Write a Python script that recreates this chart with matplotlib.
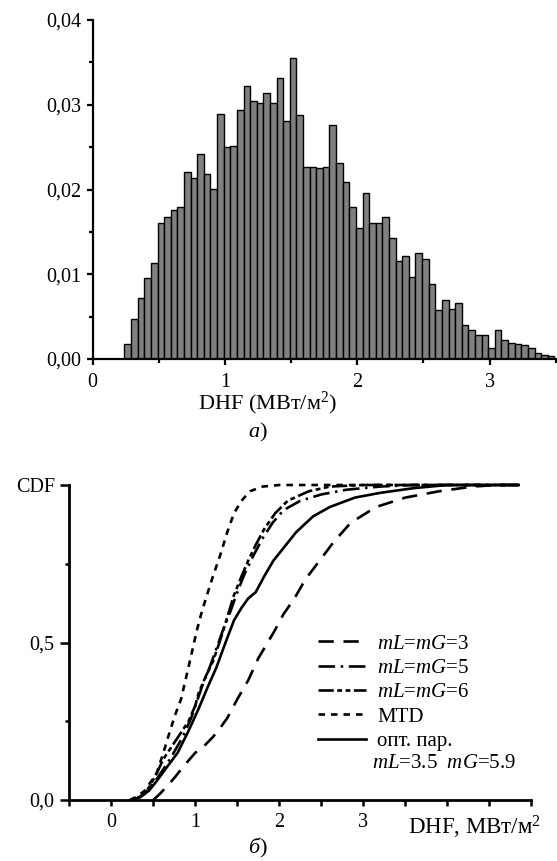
import numpy as np
import matplotlib.pyplot as plt

plt.rcParams['font.family'] = ['Liberation Serif', 'DejaVu Serif']
plt.rcParams['mathtext.fontset'] = 'custom'
plt.rcParams['mathtext.rm'] = 'Liberation Serif'
plt.rcParams['mathtext.it'] = 'Liberation Serif:italic'
plt.rcParams['lines.scale_dashes'] = False

# --- histogram data (a) ---
bin_start = 0.24
bin_width = 0.05
heights = [0.0018, 0.0047, 0.0072, 0.0096, 0.0113, 0.0160, 0.0168, 0.0176, 0.0179, 0.0221,
           0.0214, 0.0242, 0.0218, 0.0201, 0.0289, 0.0250, 0.0251, 0.0294, 0.0322, 0.0305,
           0.0302, 0.0314, 0.0302, 0.0332, 0.0281, 0.0355, 0.0288, 0.0226, 0.0226, 0.0225,
           0.0226, 0.0276, 0.0231, 0.0209, 0.0179, 0.0155, 0.0196, 0.0160, 0.0160, 0.0168,
           0.0143, 0.0116, 0.0122, 0.0097, 0.0125, 0.0118, 0.0088, 0.0058, 0.0070, 0.0059,
           0.0066, 0.0040, 0.0034, 0.0028, 0.0028, 0.0013, 0.0034, 0.0022, 0.0019, 0.0018,
           0.0016, 0.0013, 0.0007, 0.0005, 0.0003]
hist_yticks = [0.0, 0.01, 0.02, 0.03, 0.04]
hist_ylabels = ['0,00', '0,01', '0,02', '0,03', '0,04']

# --- CDF data (b) ---
x_mtd = [0.22, 0.30, 0.40, 0.54, 0.62, 0.70, 0.76, 0.83, 0.90, 0.96, 1.02, 1.08, 1.15, 1.21,
         1.30, 1.38, 1.46, 1.55, 1.65, 1.80, 2.00, 3.00, 4.85]
y_mtd = [0.0, 0.01, 0.03, 0.085, 0.15, 0.22, 0.27, 0.32, 0.40, 0.47, 0.54, 0.60, 0.66, 0.71,
         0.78, 0.85, 0.91, 0.95, 0.98, 0.995, 1.0, 1.0, 1.0]
x_m6 = [0.25, 0.35, 0.45, 0.55, 0.62, 0.72, 0.82, 0.92, 1.00, 1.04, 1.12, 1.21, 1.30, 1.38,
        1.46, 1.55, 1.63, 1.72, 1.82, 1.95, 2.10, 2.35, 2.60, 3.00, 4.85]
y_m6 = [0.0, 0.01, 0.04, 0.09, 0.13, 0.17, 0.21, 0.25, 0.30, 0.34, 0.39, 0.44, 0.51, 0.58,
        0.65, 0.71, 0.76, 0.81, 0.86, 0.91, 0.95, 0.98, 0.995, 1.0, 1.0]
x_m5 = [0.27, 0.40, 0.55, 0.70, 0.85, 0.95, 1.08, 1.17, 1.25, 1.33, 1.42, 1.50, 1.59, 1.70,
        1.80, 1.92, 2.05, 2.25, 2.50, 2.80, 3.20, 3.60, 4.85]
y_m5 = [0.0, 0.02, 0.07, 0.13, 0.20, 0.26, 0.36, 0.42, 0.48, 0.54, 0.60, 0.66, 0.72, 0.78,
        0.83, 0.88, 0.92, 0.95, 0.97, 0.985, 0.995, 1.0, 1.0]
x_opt = [0.25, 0.35, 0.45, 0.54, 0.65, 0.79, 0.92, 1.04, 1.15, 1.25, 1.36, 1.46, 1.55, 1.63,
         1.72, 1.82, 1.93, 2.05, 2.20, 2.40, 2.60, 2.90, 3.20, 3.60, 4.00, 4.85]
y_opt = [0.0, 0.01, 0.03, 0.06, 0.10, 0.15, 0.22, 0.29, 0.36, 0.42, 0.50, 0.57, 0.61, 0.64,
         0.66, 0.71, 0.76, 0.80, 0.85, 0.90, 0.93, 0.96, 0.975, 0.99, 1.0, 1.0]
x_m3 = [0.50, 0.58, 0.65, 0.75, 0.87, 1.00, 1.10, 1.21, 1.30, 1.38, 1.50, 1.63, 1.75, 1.84,
        1.95, 2.05, 2.18, 2.31, 2.48, 2.65, 2.85, 3.15, 3.50, 3.90, 4.30, 4.60, 4.85]
y_m3 = [0.0, 0.02, 0.04, 0.07, 0.11, 0.15, 0.17, 0.20, 0.23, 0.26, 0.32, 0.38, 0.45, 0.49,
        0.54, 0.59, 0.64, 0.70, 0.76, 0.82, 0.88, 0.93, 0.96, 0.98, 0.995, 1.0, 1.0]
cdf_xticks = [0, 1, 2, 3]
cdf_xlabels = ['0', '1', '2', '3']
cdf_yticks = [0.0, 0.5, 1.0]
cdf_ylabels = ['0,0', '0,5', 'CDF']

W, H = 557, 861
fig = plt.figure(figsize=(W / 100, H / 100), dpi=100)

# ---------- (a) histogram ----------
ax1 = fig.add_axes([92.7 / W, 1 - 359 / H, 463 / W, 339 / H])
lefts = bin_start + bin_width * np.arange(len(heights))
ax1.bar(lefts, heights, width=bin_width, align='edge', color='#808080',
        edgecolor='black', linewidth=1.0)
ax1.set_xlim(0, 3.5)
ax1.set_ylim(0, 0.04)
ax1.set_yticks(hist_yticks)
ax1.set_yticklabels(hist_ylabels)
ax1.set_xticks([0, 1, 2, 3])
ax1.set_xticklabels(['0', '1', '2', '3'])
ax1.set_xticks(np.arange(0.5, 3.6, 1.0), minor=True)
ax1.set_yticks(np.arange(0.005, 0.04, 0.01), minor=True)
for s in ['top', 'right']:
    ax1.spines[s].set_visible(False)
for s in ['left', 'bottom']:
    ax1.spines[s].set_linewidth(1.6)
ax1.tick_params(which='major', direction='out', length=4, width=1.6, labelsize=14.5)
ax1.tick_params(which='minor', direction='out', length=3, width=1.6)
ax1.tick_params(axis='x', pad=6)
ax1.tick_params(axis='y', pad=4)
ax1.text(1.32, -(409.5 - 359) / 339, 'DHF (МВт/м$^2$)', transform=ax1.get_xaxis_transform(),
         ha='center', va='baseline', fontsize=16)
ax1.text(1.25, -(437 - 359) / 339, '$а$)', transform=ax1.get_xaxis_transform(),
         ha='center', va='baseline', fontsize=16)

# ---------- (b) CDF ----------
ax2 = fig.add_axes([69.3 / W, 1 - 800 / H, 462 / W, 315 / H])
lw = 1.9
ax2.plot(x_m3, y_m3, color='black', lw=lw, ls=(0, (11, 7)), clip_on=False,
         label='$mL$=$mG$=3')
ax2.plot(x_m5, y_m5, color='black', lw=lw, ls=(0, (12, 4, 1.8, 4)), clip_on=False,
         label='$mL$=$mG$=5')
ax2.plot(x_m6, y_m6, color='black', lw=lw, ls=(0, (11, 2.5, 3.5, 2.5, 3.5, 2.5)),
         clip_on=False, label='$mL$=$mG$=6')
ax2.plot(x_mtd, y_mtd, color='black', lw=lw, ls=(0, (4.7, 4.3)), clip_on=False,
         label='MTD')
ax2.plot(x_opt, y_opt, color='black', lw=lw, ls='-', clip_on=False,
         label='опт. пар.')
ax2.set_xlim(-0.5, 5.0)
ax2.set_ylim(0, 1.0)
ax2.set_xticks(cdf_xticks)
ax2.set_xticklabels(cdf_xlabels)
ax2.set_xticks([-0.5, 0.5, 1.5, 2.5, 3.5, 4.0, 4.5, 5.0], minor=True)
ax2.set_yticks(cdf_yticks)
ax2.set_yticklabels(cdf_ylabels)
ax2.set_yticks([0.25, 0.75], minor=True)
for s in ['top', 'right']:
    ax2.spines[s].set_visible(False)
for s in ['left', 'bottom']:
    ax2.spines[s].set_linewidth(2.0)
ax2.tick_params(which='both', direction='out', width=1.8, labelsize=14.5)
ax2.tick_params(axis='y', which='major', length=6.5, pad=4)
ax2.tick_params(axis='y', which='minor', length=3)
ax2.tick_params(axis='x', which='major', length=4.5, pad=5)
ax2.tick_params(axis='x', which='minor', length=4)
ax2.text(408 / W, 1 - 827 / H, 'DHF, МВт/м$^2$', transform=fig.transFigure,
         ha='left', va='center', fontsize=16.5)
ax2.text(258 / W, 1 - 848 / H, '$б$)', transform=fig.transFigure,
         ha='center', va='center', fontsize=16)
ax2.legend(loc='upper left', bbox_to_anchor=(318 / W, 1 - 634 / H),
           bbox_transform=fig.transFigure, frameon=False, fontsize=15,
           handlelength=2.3, handletextpad=0.55, labelspacing=0.23,
           borderaxespad=0, borderpad=0)
ax2.text(372 / W, 1 - 764 / H, '$mL$=3.5  $mG$=5.9', transform=fig.transFigure,
         ha='left', va='center', fontsize=15)

fig.savefig('out.png', dpi=100)
